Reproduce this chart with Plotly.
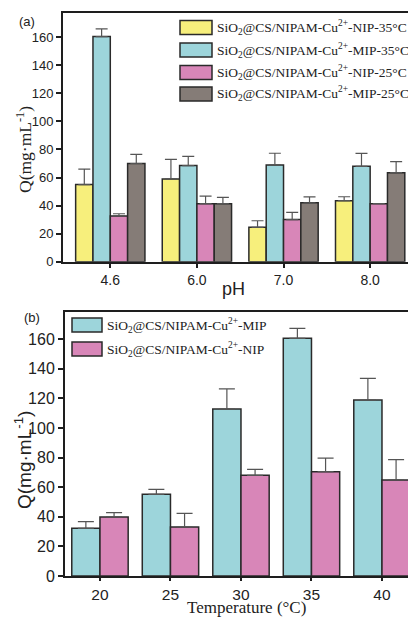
import plotly.graph_objects as go

W, H = 408, 617

# ---- Panel (a) data ----
ph_labels = ["4.6", "6.0", "7.0", "8.0"]
nip35 = [55.0, 59.0, 24.5, 43.5]
nip35_err = [11.0, 14.0, 4.7, 2.8]
mip35 = [160.5, 68.5, 69.0, 68.0]
mip35_err = [5.5, 6.6, 8.3, 9.2]
nip25 = [32.6, 41.4, 30.0, 41.4]
nip25_err = [1.6, 5.4, 5.2, 0.0]
mip25 = [70.0, 41.4, 42.0, 63.5]
mip25_err = [6.5, 4.5, 4.2, 7.8]

# ---- Panel (b) data ----
temp_labels = ["20", "25", "30", "35", "40"]
mip_t = [32.2, 55.2, 112.8, 160.6, 118.9]
mip_t_err = [4.5, 3.4, 13.6, 6.8, 14.7]
nip_t = [39.9, 33.1, 68.0, 70.5, 64.9]
nip_t_err = [2.9, 9.2, 4.1, 9.2, 13.7]

y_ticks = [0, 20, 40, 60, 80, 100, 120, 140, 160]

YELLOW = "#F7EF7C"
CYAN = "#9DD5DB"
PINK = "#D886B8"
GREY = "#857C77"
EDGE = "#2a2a2a"
ERRC = "#555555"

SERIF = "Liberation Serif, Times New Roman, serif"
SANS = "Liberation Sans, Arial, sans-serif"


def px(x):
    return x / W


def py(y):
    return 1 - y / H


def bar(x, y, err, color, xa, ya, capw, name):
    return go.Bar(
        x=x, y=y, name=name, xaxis=xa, yaxis=ya,
        marker=dict(color=color, line=dict(color=EDGE, width=1.5)),
        error_y=dict(type="data", symmetric=False, array=err,
                     arrayminus=[0] * len(err), color=ERRC,
                     thickness=1.2, width=capw),
        showlegend=False,
    )


fig = go.Figure()
# panel a
fig.add_trace(bar(ph_labels, nip35, nip35_err, YELLOW, "x", "y", 6, "NIP-35"))
fig.add_trace(bar(ph_labels, mip35, mip35_err, CYAN, "x", "y", 6, "MIP-35"))
fig.add_trace(bar(ph_labels, nip25, nip25_err, PINK, "x", "y", 6, "NIP-25"))
fig.add_trace(bar(ph_labels, mip25, mip25_err, GREY, "x", "y", 6, "MIP-25"))
# panel b
fig.add_trace(bar(temp_labels, mip_t, mip_t_err, CYAN, "x2", "y2", 8, "MIP"))
fig.add_trace(bar(temp_labels, nip_t, nip_t_err, PINK, "x2", "y2", 8, "NIP"))

axis_common = dict(showline=True, linecolor="#1e1e1e", linewidth=2,
                   ticks="outside", tickcolor="#1e1e1e", tickwidth=1.5,
                   showgrid=False, zeroline=False, automargin=False)

fig.update_layout(
    width=W, height=H,
    margin=dict(l=0, r=0, t=0, b=0),
    paper_bgcolor="white", plot_bgcolor="white",
    barmode="group", bargap=0.2, bargroupgap=0,
    xaxis=dict(type="category", domain=[px(63), 1.0],
               range=[-0.546, 3.437], anchor="y", mirror=True, ticklen=4,
               tickfont=dict(family=SANS, size=14, color="#222"),
               **axis_common),
    yaxis=dict(domain=[py(261.7), py(13)], range=[0, 177.3],
               anchor="x", tickvals=y_ticks, ticklen=5,
               tickfont=dict(family=SANS, size=13, color="#222"),
               **axis_common),
    xaxis2=dict(type="category", domain=[px(65), 1.0],
                range=[-0.496, 4.369], anchor="y2", mirror=True, ticklen=3,
                tickfont=dict(family=SANS, size=15.5, color="#222"),
                **axis_common),
    yaxis2=dict(domain=[py(576), py(312)], range=[0, 178.4],
                anchor="x2", tickvals=y_ticks, ticklen=5,
                tickfont=dict(family=SANS, size=16, color="#222"),
                **axis_common),
)

ann = []
shapes = []


def label(text, x, y, font, size, angle=0, xanchor="center"):
    ann.append(dict(text=text, x=px(x), y=py(y), xref="paper", yref="paper",
                    xanchor=xanchor, yanchor="middle", showarrow=False,
                    textangle=angle,
                    font=dict(family=font, size=size, color="#222")))


# panel labels
label("(a)", 27, 22, SANS, 13)
label("(b)", 32, 317, SANS, 13)

# axis titles
label("Q(mg·mL<sup>-1</sup>)", 24, 150, SERIF, 17.5, angle=-90)
label("Q(mg·mL<sup>-1</sup>)", 23, 460, SANS, 19, angle=-90)
label("pH", 233, 289, SANS, 18)
label("Temperature (°C)", 247, 607.5, SERIF, 17)

# legend (a)
leg_a = [
    (YELLOW, "SiO<sub>2</sub>@CS/NIPAM-Cu<sup>2+</sup>-NIP-35°C", 27.5),
    (CYAN, "SiO<sub>2</sub>@CS/NIPAM-Cu<sup>2+</sup>-MIP-35°C", 50),
    (PINK, "SiO<sub>2</sub>@CS/NIPAM-Cu<sup>2+</sup>-NIP-25°C", 72.5),
    (GREY, "SiO<sub>2</sub>@CS/NIPAM-Cu<sup>2+</sup>-MIP-25°C", 94),
]
for col, txt, yc in leg_a:
    shapes.append(dict(type="rect", xref="paper", yref="paper",
                       x0=px(180), x1=px(212), y0=py(yc + 7), y1=py(yc - 7),
                       fillcolor=col, line=dict(color=EDGE, width=1.5)))
    label(txt, 215, yc, SERIF, 13.5, xanchor="left")

# legend (b)
leg_b = [
    (CYAN, "SiO<sub>2</sub>@CS/NIPAM-Cu<sup>2+</sup>-MIP", 325),
    (PINK, "SiO<sub>2</sub>@CS/NIPAM-Cu<sup>2+</sup>-NIP", 349),
]
for col, txt, yc in leg_b:
    shapes.append(dict(type="rect", xref="paper", yref="paper",
                       x0=px(72), x1=px(102), y0=py(yc + 7), y1=py(yc - 7),
                       fillcolor=col, line=dict(color=EDGE, width=1.5)))
    label(txt, 105, yc, SERIF, 13.5, xanchor="left")

fig.update_layout(annotations=ann, shapes=shapes)
fig.write_html("out.html")
